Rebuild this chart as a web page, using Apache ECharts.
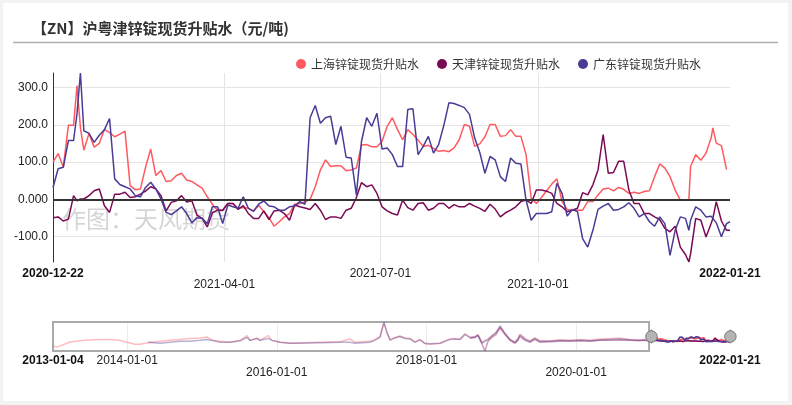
<!DOCTYPE html>
<html><head><meta charset="utf-8">
<script src="https://cdn.jsdelivr.net/npm/echarts@6/dist/echarts.min.js"></script>
<style>
html,body{margin:0;padding:0;background:#f3f3f3;width:792px;height:405px;overflow:hidden;}
#c{position:absolute;left:3px;top:3px;width:785px;height:398px;background:#fff;}
</style></head><body><div id="c"></div>
<script>
const seriesNames = ['上海锌锭现货升贴水','天津锌锭现货升贴水','广东锌锭现货升贴水'];
const seriesColors = ['#ff5a60','#7b0a55','#4a3b96'];

const recentDates = [
'2020-12-22','2020-12-25','2020-12-28','2020-12-31','2021-01-03','2021-01-05','2021-01-07','2021-01-09',
'2021-01-12','2021-01-15','2021-01-18','2021-01-21','2021-01-24','2021-01-27','2021-01-30','2021-02-02','2021-02-05',
'2021-02-08','2021-02-11','2021-02-14','2021-02-17','2021-02-20','2021-02-23','2021-02-26','2021-03-01','2021-03-04',
'2021-03-07','2021-03-10','2021-03-13','2021-03-16','2021-03-19','2021-03-22','2021-03-25','2021-03-28','2021-03-31',
'2021-04-03','2021-04-06','2021-04-09','2021-04-12','2021-04-15','2021-04-18','2021-04-21','2021-04-24','2021-04-27',
'2021-04-30','2021-05-03','2021-05-06','2021-05-09','2021-05-12','2021-05-15','2021-05-18','2021-05-21','2021-05-24',
'2021-05-27','2021-05-30','2021-06-02','2021-06-05','2021-06-08','2021-06-11','2021-06-14','2021-06-17','2021-06-20',
'2021-06-23','2021-06-26','2021-06-29','2021-07-02','2021-07-05','2021-07-08','2021-07-11','2021-07-14','2021-07-17',
'2021-07-20','2021-07-23','2021-07-26','2021-07-29','2021-08-01','2021-08-04','2021-08-07','2021-08-10','2021-08-13',
'2021-08-16','2021-08-19','2021-08-22','2021-08-25','2021-08-28','2021-08-31','2021-09-03','2021-09-06','2021-09-09',
'2021-09-12','2021-09-15','2021-09-18','2021-09-21','2021-09-24','2021-09-27','2021-09-30','2021-10-03','2021-10-06',
'2021-10-09','2021-10-12','2021-10-15','2021-10-18','2021-10-21','2021-10-24','2021-10-27','2021-10-30','2021-11-02',
'2021-11-05','2021-11-08','2021-11-11','2021-11-14','2021-11-17','2021-11-20','2021-11-23','2021-11-26','2021-11-29',
'2021-12-02','2021-12-05','2021-12-08','2021-12-11','2021-12-14','2021-12-17','2021-12-20','2021-12-23','2021-12-26',
'2021-12-28','2021-12-29','2022-01-01','2022-01-04','2022-01-07','2022-01-10','2022-01-11','2022-01-13','2022-01-16','2022-01-19','2022-01-21'
];
const shanghai = [
100,123,86,199,199,305,192,132,
177,140,150,188,179,168,175,183,37,
26,28,86,135,64,77,48,50,64,
70,52,48,39,30,7,-13,-29,-29,
-11,-11,-24,-22,-24,-31,-16,-33,-49,
-72,-60,-47,-38,-13,-11,-7,0,34,
79,106,88,90,90,77,79,84,146,
147,141,141,156,196,219,187,160,187,
174,159,142,145,137,129,131,128,138,
160,201,196,142,149,168,201,201,169,
171,187,169,169,120,3,-11,5,23,
41,55,-6,-27,-29,-29,-29,-6,-6,
12,28,30,23,32,27,16,19,16,
21,23,61,95,84,61,25,-2,-2,
-2,88,120,105,124,165,192,151,144,80,null
];
const tianjin = [
-49,-47,-58,-53,10,-4,1,1,
10,23,28,-17,-35,14,14,19,5,
7,14,22,34,28,10,-31,-8,-4,
10,-7,-4,-42,-51,-74,-36,-29,-29,
-11,-11,-27,-17,-38,-51,-51,-31,-54,
-31,-29,-38,-56,-15,-20,-23,-27,-11,
-29,-54,-47,-47,-51,-29,-24,5,45,
34,39,16,-20,-31,-38,-42,-2,-22,
-29,-11,-9,-29,-24,-11,-11,-24,-14,
-20,-20,-11,-18,-24,-32,-13,-26,-47,
-36,-29,-20,-6,-2,-11,25,25,22,
16,-11,-20,-33,-29,-24,18,12,39,
79,174,70,72,102,102,25,-11,-11,
-38,-38,-47,-54,-78,-87,-72,-128,-148,
-168,-146,-51,-56,-101,-65,-51,-6,-58,-83,-83
];
const guangdong = [
32,82,86,158,158,230,339,184,
177,153,172,187,217,55,40,34,28,
10,7,32,46,28,1,-35,-41,-31,
-20,-38,-63,-49,-51,-65,-20,-20,-65,
-15,-20,-24,7,-24,-32,-13,-4,-18,
-20,-29,-29,-20,-18,-6,-13,219,252,
204,219,223,147,196,113,111,12,156,
219,196,231,135,138,120,88,88,241,
243,120,142,169,124,147,198,259,257,
252,246,228,165,126,70,115,106,61,
48,111,97,95,-2,-56,-38,-38,-38,
-33,43,16,-45,-27,-33,-105,-128,-83,
-27,-18,-11,-29,-27,-20,-9,-24,-47,
-38,-60,-72,-47,-65,-150,-83,-47,-51,
-83,-56,-20,-29,-47,-45,-47,-63,-100,-65,-60
];

const histDates = [
'2013-01-04','2013-01-24','2013-03-28','2013-06-09','2013-08-21','2013-10-09','2013-11-27','2013-12-31','2014-02-08','2014-03-05',
'2014-04-13','2014-06-10','2014-07-29','2014-09-16','2014-11-04','2014-12-22','2015-01-26','2015-02-19','2015-03-30','2015-05-18',
'2015-07-06','2015-08-09','2015-08-23','2015-09-27','2015-10-11','2015-11-19','2015-12-09','2016-01-17','2016-03-06','2016-04-23',
'2016-07-30','2016-11-05','2016-12-23','2017-01-17','2017-03-31','2017-04-24','2017-05-19','2017-06-07','2017-06-22','2017-07-07',
'2017-07-31','2017-08-24','2017-09-18','2017-10-12','2017-11-06','2017-11-30','2017-12-24','2018-01-18','2018-03-08','2018-04-25',
'2018-05-20','2018-06-13','2018-07-08','2018-08-01','2018-08-26','2018-09-09','2018-09-29','2018-10-13','2018-10-28','2018-11-16',
'2018-12-06','2018-12-26','2019-01-19','2019-02-12','2019-03-09','2019-03-23','2019-04-02','2019-04-27','2019-05-21','2019-06-14',
'2019-07-09','2019-08-27','2019-10-14','2019-12-02','2020-01-20','2020-03-09','2020-04-27','2020-06-14','2020-08-02','2020-09-20',
'2020-11-08','2020-12-02'
];
const histShanghai = [
-312,-390,-72,30,90,90,30,-90,-210,-210,
-120,-30,30,90,150,180,240,30,-30,-90,
30,330,30,168,30,330,30,-90,-150,-120,
-90,-60,120,-90,-30,90,270,1110,510,90,
210,300,180,150,-60,90,-180,-210,-150,120,
150,90,450,210,270,390,-90,30,90,330,
510,870,450,90,-90,150,420,150,0,180,
0,0,60,30,90,30,120,150,180,90,
60,90
];
const histTianjin = [
null,null,null,null,null,null,null,null,null,null,
null,null,null,null,null,null,null,null,null,null,
null,null,null,null,null,null,null,null,null,null,
null,null,null,null,null,null,null,null,null,null,
null,null,null,null,null,null,null,null,null,null,
null,null,null,150,210,330,-210,-630,-30,210,
390,810,390,30,-150,30,270,30,-90,90,
-90,-60,-30,-30,0,-30,30,30,60,30,
0,30
];
const histGuangdong = [
null,null,null,null,null,null,null,null,null,null,
-90,-150,-90,-30,-30,30,90,30,-90,-90,
0,210,30,150,30,150,30,-90,-150,-150,
-120,-90,-90,-150,-90,30,210,1170,510,30,
180,270,150,120,-90,60,-150,-180,-150,90,
120,90,390,210,240,360,-150,-30,90,300,
510,930,450,90,-90,90,360,90,-30,150,
-30,-30,30,0,30,0,60,90,120,60,
30,60
];

const mainLabelDates = ['2020-12-22','2021-04-01','2021-07-01','2021-10-01','2022-01-21'];
const mainLowerLabels = ['2021-04-01','2021-10-01'];
const mainGridDates = ['2021-04-01','2021-07-01','2021-10-01'];
const miniLabelDates = ['2013-01-04','2014-01-01','2016-01-01','2018-01-01','2020-01-01','2022-01-21'];
const miniLowerLabels = ['2016-01-01','2020-01-01'];
const miniGridDates = ['2014-01-01','2016-01-01','2018-01-01','2020-01-01'];

function ts(s){const p=s.split('-');return Date.UTC(+p[0],+p[1]-1,+p[2]);}
function fmt(t){const d=new Date(Math.round(t));return d.getUTCFullYear()+'-'+String(d.getUTCMonth()+1).padStart(2,'0')+'-'+String(d.getUTCDate()).padStart(2,'0');}
function pairs(dates, vals){return dates.map((d,i)=>[ts(d), vals[i]]);}
function stagger(labels, lowers){
  return function(v){
    const s = fmt(v); const i = labels.indexOf(s);
    const tag = (i===0 || i===labels.length-1) ? 'b' : 'n';
    return (lowers.indexOf(s) >= 0 ? '\n' : '') + '{' + tag + '|' + s + '}';
  };
}
const recentSets = [shanghai, tianjin, guangdong];
const histSets = [histShanghai, histTianjin, histGuangdong];
const fullData = recentSets.map((r,i)=>pairs(histDates, histSets[i]).concat(pairs(recentDates, r)));
const recentData = recentSets.map(r=>pairs(recentDates, r));

const FONT = "'Liberation Sans', Arial, 'Noto Sans CJK SC', sans-serif";
const chart = echarts.init(document.getElementById('c'), null, {renderer:'canvas'});

const series = [];
seriesNames.forEach((n,i)=>{
  const s = {
    name:n, type:'line', xAxisIndex:0, yAxisIndex:0, data: fullData[i],
    showSymbol:false, symbol:'none', color: seriesColors[i],
    lineStyle:{width:1.5, color: seriesColors[i]}, z: 3
  };
  if(i===0){
    s.markLine = {silent:true, symbol:'none', label:{show:false},
      lineStyle:{color:'#333', width:2, type:'solid'}, data:[{yAxis:0}], z: 5};
  }
  series.push(s);
});
seriesNames.forEach((n,i)=>{
  const s = {
    name:n, type:'line', xAxisIndex:1, yAxisIndex:1, data: fullData[i],
    showSymbol:false, symbol:'none', color: seriesColors[i],
    lineStyle:{width:1.5, color: seriesColors[i], opacity:0.4}, z: 2
  };
  if(i===0){
    s.markArea = {silent:true, itemStyle:{color:'rgba(0,0,0,0)', borderColor:'#aaaaaa', borderWidth:2},
      data:[[{xAxis: ts(histDates[0])},{xAxis: ts(recentDates[0])}]]};
  }
  series.push(s);
});
seriesNames.forEach((n,i)=>{
  series.push({
    name:n, type:'line', xAxisIndex:1, yAxisIndex:1, data: recentData[i],
    showSymbol:false, symbol:'none', color: seriesColors[i],
    lineStyle:{width:1.5, color: seriesColors[i]}, z: 3
  });
});

const richMain = {
  b:{fontWeight:'bold', fontSize:12, color:'#111', fontFamily:FONT, lineHeight:11},
  n:{fontSize:12, color:'#222', fontFamily:FONT, lineHeight:11}
};
const richMini = {
  b:{fontWeight:'bold', fontSize:12, color:'#111', fontFamily:FONT, lineHeight:12},
  n:{fontSize:12, color:'#222', fontFamily:FONT, lineHeight:12}
};

chart.setOption({
  animation:false,
  textStyle:{fontFamily:FONT},
  title:{text:'【ZN】沪粤津锌锭现货升贴水（元/吨)', left:24, top:13,
    textStyle:{fontSize:15, fontWeight:'bold', color:'#333', fontFamily:"'Noto Sans CJK SC', sans-serif"}},
  legend:{data:seriesNames, right:82, top:50, icon:'circle', itemWidth:10, itemHeight:10, itemGap:18,
    textStyle:{fontSize:12, color:'#333', fontFamily:"'Noto Sans CJK SC', sans-serif"}},
  graphic:[
    {type:'line', shape:{x1:10, y1:39.5, x2:775, y2:39.5}, style:{stroke:'#b0b0b0', lineWidth:1.5}, silent:true},
    {type:'text', left:59, top:204, z:0, silent:true,
      style:{text:'作图：天风期货', fontSize:24, fill:'rgba(0,0,0,0.17)', fontFamily:"'Noto Sans CJK SC', sans-serif"}}
  ],
  grid:[
    {left:50, right:58, top:70, bottom:139},
    {left:50, right:58, top:319, height:29}
  ],
  xAxis:[
    {type:'value', gridIndex:0, scale:true, min:'dataMin', max:'dataMax',
      axisLine:{show:false},
      axisTick:{show:false, customValues: mainGridDates.map(ts)},
      splitLine:{show:true, lineStyle:{color:'#e4e4e4', width:1}},
      axisLabel:{customValues: mainLabelDates.map(ts), formatter: stagger(mainLabelDates, mainLowerLabels),
        rich: richMain, lineHeight:11, fontSize:12, margin:6, hideOverlap:false}
    },
    {type:'value', gridIndex:1, scale:true, min:'dataMin', max:'dataMax',
      axisLine:{show:false},
      axisTick:{show:false, customValues: miniGridDates.map(ts)},
      splitLine:{show:true, lineStyle:{color:'#ececec', width:1}},
      axisLabel:{customValues: miniLabelDates.map(ts), formatter: stagger(miniLabelDates, miniLowerLabels),
        rich: richMini, lineHeight:12, fontSize:12, margin:4, hideOverlap:false}
    }
  ],
  yAxis:[
    {type:'value', gridIndex:0, min:'dataMin', max:'dataMax',
      axisLine:{show:true, lineStyle:{color:'#333', width:1}},
      axisTick:{show:false},
      splitLine:{show:true, lineStyle:{color:'#e4e4e4'}, showMinLine:false, showMaxLine:false},
      axisLabel:{showMinLabel:false, showMaxLabel:false, formatter:v=>Number(v).toPrecision(4),
        color:'#222', fontSize:12, margin:5}
    },
    {type:'value', gridIndex:1, min:'dataMin', max:'dataMax', show:false, splitLine:{show:false}}
  ],
  dataZoom:[
    {type:'slider', xAxisIndex:0, filterMode:'filter',
      startValue: ts(recentDates[0]), endValue: ts(recentDates[recentDates.length-1]),
      left:50, right:58, top:319, height:29,
      showDataShadow:false, showDetail:false, brushSelect:false, moveHandleSize:0,
      backgroundColor:'rgba(0,0,0,0)', borderColor:'rgba(0,0,0,0)', fillerColor:'rgba(0,0,0,0)',
      handleIcon:'path://M10.7,11.9v-1.3H9.3v1.3c-4.9,0.3-8.8,4.4-8.8,9.4c0,5,3.9,9.1,8.8,9.4v1.3h1.3v-1.3c4.9-0.3,8.8-4.4,8.8-9.4C19.5,16.3,15.6,12.2,10.7,11.9z',
      handleSize:'45%',
      handleStyle:{color:'#b4b4b4', borderColor:'#7a7a7a', borderWidth:1},
      emphasis:{handleStyle:{color:'#b4b4b4', borderColor:'#7a7a7a'}}
    }
  ],
  series: series
});
</script>
</body></html>
